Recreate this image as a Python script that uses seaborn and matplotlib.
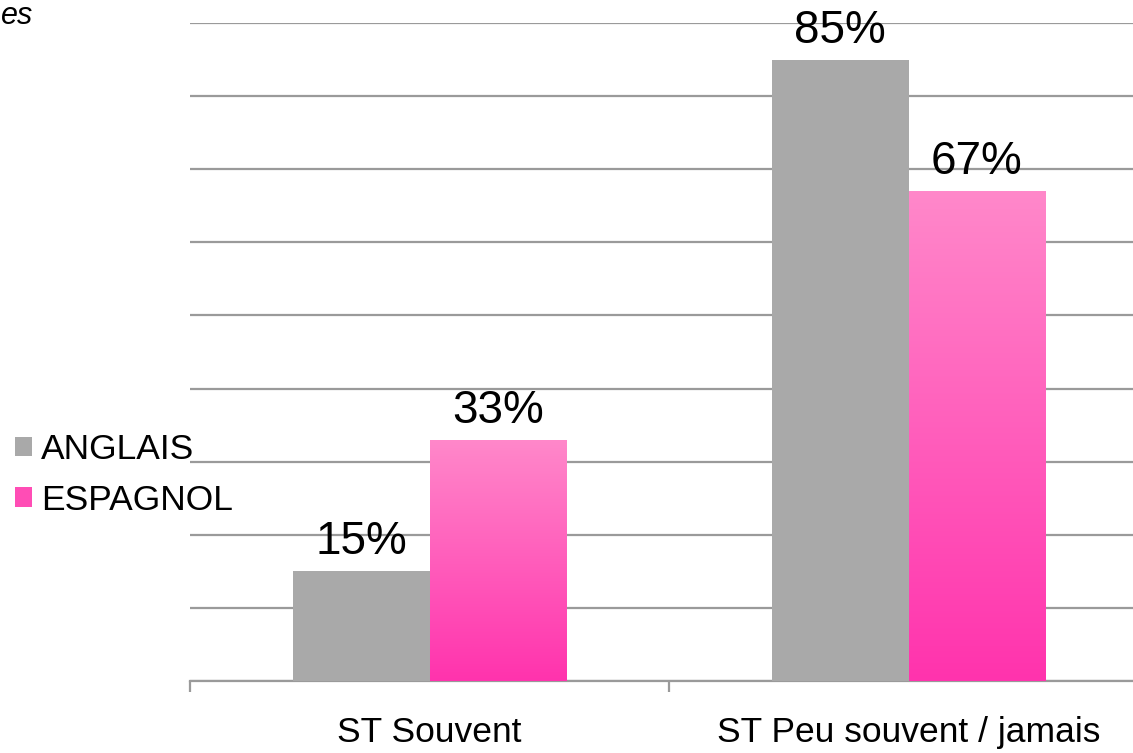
import numpy as np
import pandas as pd
import matplotlib
matplotlib.use("Agg")
import matplotlib.pyplot as plt
import seaborn as sns
from matplotlib.patches import Patch
from matplotlib.colors import LinearSegmentedColormap

categories = ["ST Souvent", "ST Peu souvent / jamais"]
series_names = ["ANGLAIS", "ESPAGNOL"]
anglais = [0.15, 0.85]
espagnol = [0.33, 0.67]
value_labels_anglais = ["15%", "85%"]
value_labels_espagnol = ["33%", "67%"]

df = pd.DataFrame({
    "cat": categories * 2,
    "serie": [series_names[0]] * 2 + [series_names[1]] * 2,
    "val": anglais + espagnol,
    "lab": value_labels_anglais + value_labels_espagnol,
})

sns.set_theme(style="white")
plt.rcParams["font.family"] = ["Liberation Sans", "DejaVu Sans"]
plt.rcParams["text.color"] = "black"

gray = "#A9A9A9"
pink_top = "#FF88CA"
pink_bot = "#FF33AD"

fig = plt.figure(figsize=(11.33, 7.53), dpi=100)
ax = fig.add_axes([190 / 1133, 72 / 753, 958 / 1133, 658 / 753])

sns.barplot(data=df, x="cat", y="val", hue="serie", order=categories,
            hue_order=series_names, palette=[gray, "#FF5CBA"], width=0.572,
            saturation=1, legend=False, ax=ax, zorder=3, linewidth=0)

ax.set_ylim(0, 0.9)
ax.set_xlim(-0.5, 1.5)
ax.set_yticks(np.arange(0, 0.91, 0.1))
ax.yaxis.grid(True, color="#9A9A9A", linewidth=1.6, zorder=0)
ax.set_axisbelow(True)
ax.tick_params(axis="y", left=False, labelleft=False)
for s in ["left", "right", "top"]:
    ax.spines[s].set_visible(False)
ax.spines["bottom"].set_color("#9A9A9A")
ax.spines["bottom"].set_linewidth(1.6)
ax.set_xticks([-0.5, 0.5, 1.5], minor=False)
ax.set_xticklabels([])
ax.tick_params(axis="x", bottom=True, length=8, width=1.6, color="#9A9A9A")
ax.set_xlabel("")
ax.set_ylabel("")
for i, c in enumerate(categories):
    ax.text(i, -0.071, c, ha="center", va="center", fontsize=25.5, color="black")

# gradient for pink bars
cmap = LinearSegmentedColormap.from_list("pk", [pink_bot, pink_top])
grad = np.linspace(0, 1, 256).reshape(-1, 1)
patches = list(ax.patches)
n = len(categories)
for k, p in enumerate(patches):
    x0, y0 = p.get_x(), p.get_y()
    w, h = p.get_width(), p.get_height()
    if k >= n:
        im = ax.imshow(grad, cmap=cmap, aspect="auto", origin="lower",
                       extent=(x0, x0 + w, y0, y0 + h), zorder=4)
        im.set_clip_path(p)
    lab = df["lab"].iloc[k]
    ax.annotate(lab, (x0 + w / 2, y0 + h), xytext=(0, 5),
                textcoords="offset points", ha="center", va="bottom",
                fontsize=33, color="black", annotation_clip=False, zorder=5)

ax.set_xlim(-0.5, 1.5)
ax.set_ylim(0, 0.9)

handles = [Patch(facecolor=gray, edgecolor="none"),
           Patch(facecolor="#FF4DB5", edgecolor="none")]
leg = fig.legend(handles, series_names, loc="center left",
                 bbox_to_anchor=(15 / 1133, 1 - 475 / 753), frameon=False,
                 fontsize=25.5, handlelength=0.48, handleheight=0.48,
                 handletextpad=0.26, labelspacing=0.5, borderaxespad=0,
                 borderpad=0, labelcolor="black")

fig.text(1 / 1133, 1 - 16 / 753, "es", fontsize=22, style="italic",
         ha="left", va="center", color="black")

fig.savefig("out.png", dpi=100)
